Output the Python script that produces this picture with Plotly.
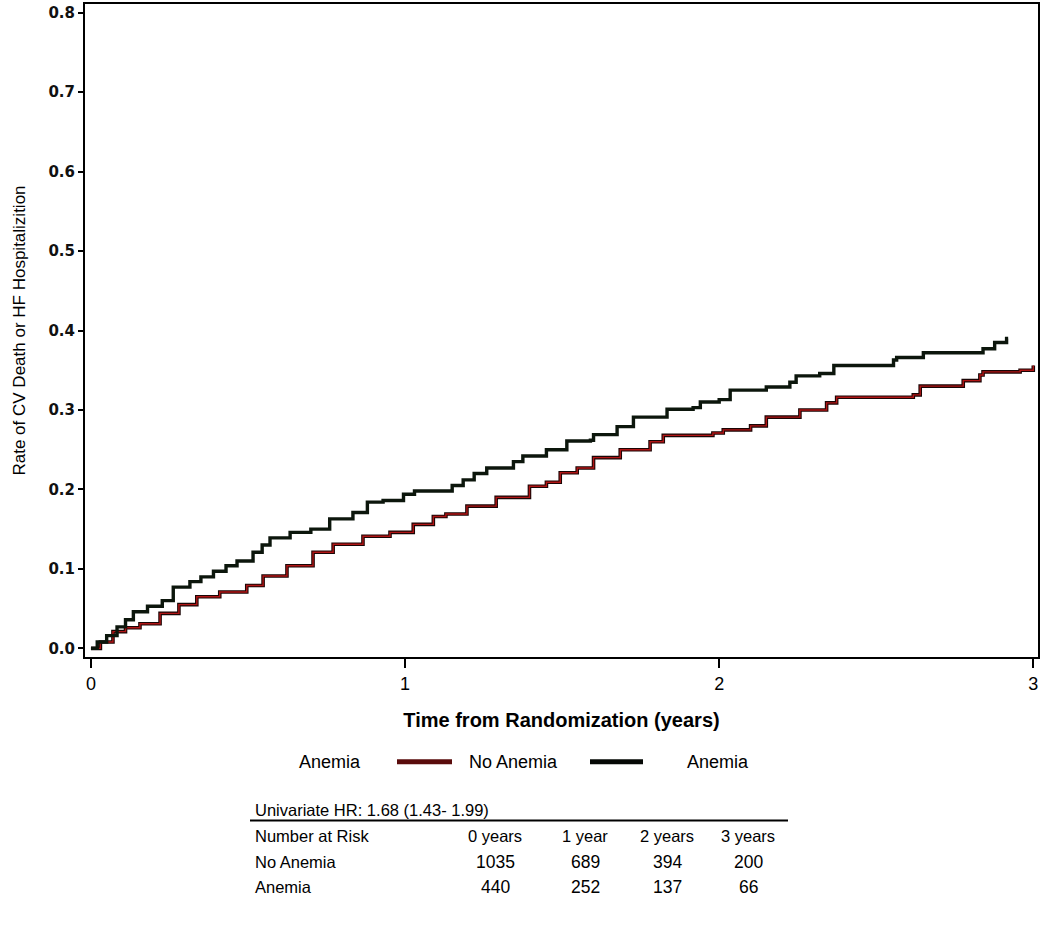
import plotly.graph_objects as go

# ---- data ----
anemia_t = [0, 0.02, 0.05, 0.083, 0.11, 0.135, 0.18, 0.227, 0.262, 0.315, 0.35, 0.39, 0.43, 0.465,
            0.516, 0.545, 0.57, 0.634, 0.70, 0.76, 0.834, 0.88, 0.93, 0.995, 1.03, 1.15, 1.185,
            1.22, 1.26, 1.345, 1.375, 1.45, 1.515, 1.59, 1.60, 1.675, 1.727, 1.834, 1.917, 1.94,
            2.0, 2.035, 2.15, 2.225, 2.245, 2.32, 2.365, 2.555, 2.565, 2.65, 2.84, 2.877, 2.915, 2.92]
anemia_y = [0.0, 0.008, 0.016, 0.027, 0.036, 0.046, 0.053, 0.060, 0.077, 0.084, 0.090, 0.097, 0.104,
            0.110, 0.121, 0.130, 0.139, 0.146, 0.150, 0.163, 0.171, 0.184, 0.186, 0.194, 0.198,
            0.205, 0.212, 0.220, 0.227, 0.235, 0.242, 0.250, 0.261, 0.262, 0.269, 0.279, 0.291,
            0.301, 0.303, 0.310, 0.313, 0.325, 0.329, 0.335, 0.343, 0.346, 0.356, 0.363, 0.366,
            0.372, 0.377, 0.385, 0.390, 0.390]

noanemia_t = [0, 0.03, 0.07, 0.11, 0.156, 0.22, 0.28, 0.337, 0.41, 0.496, 0.548, 0.624, 0.707, 0.771,
              0.866, 0.952, 1.026, 1.09, 1.13, 1.197, 1.29, 1.396, 1.45, 1.494, 1.548, 1.60, 1.685,
              1.78, 1.822, 1.98, 2.013, 2.10, 2.15, 2.257, 2.342, 2.374, 2.618, 2.64, 2.777, 2.83,
              2.84, 2.958, 3.0]
noanemia_y = [0.0, 0.008, 0.021, 0.026, 0.031, 0.044, 0.055, 0.065, 0.071, 0.079, 0.091, 0.104, 0.121,
              0.131, 0.141, 0.146, 0.156, 0.166, 0.169, 0.179, 0.190, 0.204, 0.209, 0.221, 0.227,
              0.240, 0.250, 0.260, 0.268, 0.271, 0.275, 0.280, 0.291, 0.300, 0.309, 0.316, 0.319,
              0.330, 0.337, 0.344, 0.348, 0.350, 0.356]

y_ticks = [0.0, 0.1, 0.2, 0.3, 0.4, 0.5, 0.6, 0.7, 0.8]
x_ticks = [0, 1, 2, 3]

hr_text = "Univariate HR: 1.68 (1.43- 1.99)"
risk_cols = ["0 years", "1 year", "2 years", "3 years"]
risk_groups = ["No Anemia", "Anemia"]
risk_no_anemia = [1035, 689, 394, 200]
risk_anemia = [440, 252, 137, 66]

# ---- layout geometry ----
W, H = 1050, 938
ML, MR, MT, MB = 85, 12, 2, 281
PW, PH = W - ML - MR, H - MT - MB


def px(x):
    return (x - ML) / PW


def py(y):
    return (H - MB - y) / PH


fig = go.Figure()
fig.add_trace(go.Scatter(x=noanemia_t, y=noanemia_y, mode="lines", line_shape="hv",
                         line=dict(color="#1a0505", width=3.6), showlegend=False, hoverinfo="skip"))
fig.add_trace(go.Scatter(x=noanemia_t, y=noanemia_y, mode="lines", line_shape="hv",
                         line=dict(color="#b01515", width=1.4), showlegend=False, name="No Anemia"))
fig.add_trace(go.Scatter(x=anemia_t, y=anemia_y, mode="lines", line_shape="hv",
                         line=dict(color="#0c160c", width=3.4), showlegend=False, name="Anemia"))

txt = "Liberation Sans, Arial, sans-serif"

fig.update_layout(
    width=W, height=H,
    margin=dict(l=ML, r=MR, t=MT, b=MB),
    paper_bgcolor="white", plot_bgcolor="white",
    showlegend=False,
    xaxis=dict(range=[-0.019, 3.015], tickvals=x_ticks, ticktext=[str(v) for v in x_ticks],
               ticks="outside", ticklen=9, tickwidth=2, tickcolor="black",
               showgrid=False, zeroline=False, showline=True, linecolor="black", linewidth=2,
               mirror=True, tickfont=dict(family=txt, size=18, color="black"),
               title=dict(text="Time from Randomization (years)",
                          font=dict(family=txt, size=20, color="black", weight="bold"), standoff=20)),
    yaxis=dict(range=[-0.0109, 0.811], tickvals=y_ticks, ticktext=[f"{v:.1f}" for v in y_ticks],
               ticks="outside", ticklen=5, tickwidth=2, tickcolor="black",
               showgrid=False, zeroline=False, showline=True, linecolor="black", linewidth=2,
               mirror=True,
               tickfont=dict(family="DejaVu Sans, sans-serif", size=15, color="#111", weight="bold"),
               title=dict(text="Rate of CV Death or HF Hospitalizition",
                          font=dict(family=txt, size=17, color="black"), standoff=18)),
)

annotations = []
shapes = []

# legend row
leg_y = 762
for text, lx in [("Anemia", 297), ("No Anemia", 467), ("Anemia", 685)]:
    annotations.append(dict(text=text, x=px(lx), y=py(leg_y), xanchor="left", yanchor="middle",
                            xref="paper", yref="paper", showarrow=False,
                            font=dict(family=txt, size=18, color="black")))
shapes.append(dict(type="line", xref="paper", yref="paper", x0=px(397), x1=px(452),
                   y0=py(leg_y), y1=py(leg_y), line=dict(color="#5a0c0c", width=5)))
shapes.append(dict(type="line", xref="paper", yref="paper", x0=px(590), x1=px(643),
                   y0=py(leg_y), y1=py(leg_y), line=dict(color="#050805", width=5)))

# table
tfont = dict(family=txt, size=16.5, color="black")
annotations.append(dict(text=hr_text, x=px(253), y=py(810), xanchor="left", yanchor="middle",
                        xref="paper", yref="paper", showarrow=False, font=tfont))
shapes.append(dict(type="line", xref="paper", yref="paper", x0=px(250), x1=px(788),
                   y0=py(821), y1=py(821), line=dict(color="black", width=2)))
annotations.append(dict(text="Number at Risk", x=px(253), y=py(837), xanchor="left", yanchor="middle",
                        xref="paper", yref="paper", showarrow=False, font=tfont))
col_x = [495, 585, 667, 748]
for cx, lab in zip(col_x, risk_cols):
    annotations.append(dict(text=lab, x=px(cx), y=py(837), xanchor="center", yanchor="middle",
                            xref="paper", yref="paper", showarrow=False, font=tfont))
for ry, grp, vals in zip([863, 888], risk_groups, [risk_no_anemia, risk_anemia]):
    annotations.append(dict(text=grp, x=px(253), y=py(ry), xanchor="left", yanchor="middle",
                            xref="paper", yref="paper", showarrow=False, font=tfont))
    for cx, v in zip(col_x, vals):
        annotations.append(dict(text=str(v), x=px(cx), y=py(ry), xanchor="center", yanchor="middle",
                                xref="paper", yref="paper", showarrow=False,
                                font=dict(family=txt, size=17.5, color="black")))

fig.update_layout(annotations=annotations, shapes=shapes)
fig.write_html("out.html", config={"displayModeBar": False},
               post_script="document.body.style.margin='0px';document.body.style.overflow='hidden';")
